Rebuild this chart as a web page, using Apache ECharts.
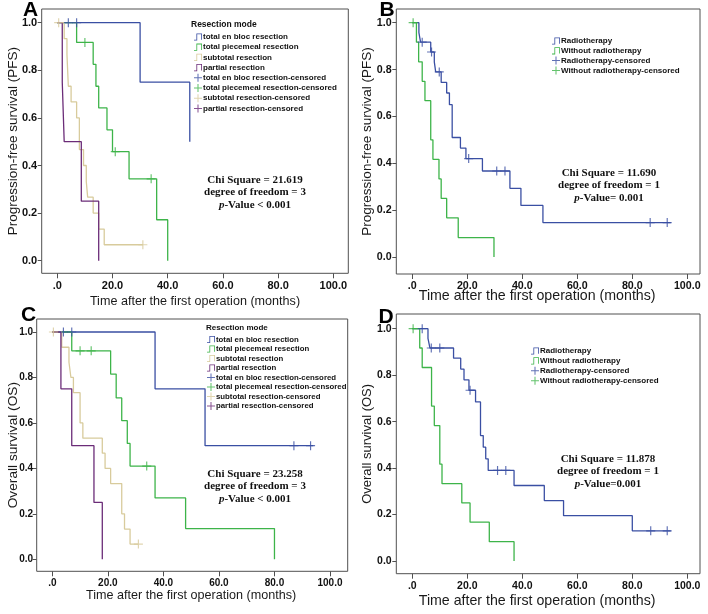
<!DOCTYPE html>
<html><head><meta charset="utf-8">
<script src="https://cdn.jsdelivr.net/npm/echarts@6/dist/echarts.min.js"></script>
<style>html,body{margin:0;padding:0;background:#fff}#c{width:708px;height:614px}</style>
</head><body><div id="c"></div>
<script>
// ---------- data ----------
const xTicks = [0, 20, 40, 60, 80, 100];
const yTicks = [0, 0.2, 0.4, 0.6, 0.8, 1.0];
const resectionNames = ['total en bloc resection', 'total piecemeal resection', 'subtotal resection', 'partial resection'];
const radioNames = ['Radiotherapy', 'Without radiotherapy'];

// Panel A: PFS by resection mode
const A_enbloc = [[0,1],[30,0.75],[48,0.5]];
const A_enbloc_cens = [[4,1],[7,1]];
const A_piecemeal = [[0,1],[7,0.917],[13,0.825],[14,0.733],[15,0.642],[18,0.55],[20,0.458],[26,0.344],[36,0.172],[40,0]];
const A_piecemeal_cens = [[10,0.917],[21,0.458],[34,0.344]];
const A_subtotal = [[0,1],[2.5,0.933],[3.5,0.867],[4,0.733],[5,0.667],[7,0.6],[8,0.467],[9.5,0.4],[10.5,0.333],[11,0.267],[13,0.2],[15,0.133],[17,0.067],[31,0.067]];
const A_subtotal_cens = [[0.5,1],[31,0.067]];
const A_partial = [[0,1],[1.8,0.75],[2.5,0.5],[8.7,0.25],[15,0]];
const A_partial_cens = [];

// Panel B: PFS by radiotherapy
const B_radio = [[0,1],[2.4,0.958],[3,0.917],[6.7,0.875],[8,0.833],[8.5,0.79],[10.5,0.745],[12.5,0.7],[13.5,0.65],[14.5,0.51],[17.5,0.465],[19.5,0.42],[25.5,0.367],[35.5,0.293],[39.5,0.22],[47.5,0.147],[94,0.147]];
const B_radio_cens = [[3.6,0.917],[7,0.875],[9.8,0.79],[20.5,0.42],[30.7,0.367],[33.7,0.367],[86.5,0.147],[92.7,0.147]];
const B_without = [[0,1],[1.5,0.917],[2.3,0.833],[3.6,0.75],[4.6,0.667],[6.7,0.5],[7.5,0.417],[9.7,0.333],[10.5,0.25],[12.5,0.167],[16.7,0.083],[29.7,0]];
const B_without_cens = [[0.3,1]];

// Panel C: OS by resection mode
const C_enbloc = [[0,1],[37,0.75],[55,0.5],[94,0.5]];
const C_enbloc_cens = [[4,1],[7,1],[87,0.5],[93,0.5]];
const C_piecemeal = [[0,1],[7,0.917],[21,0.815],[23,0.71],[25,0.61],[27,0.51],[28,0.41],[37,0.27],[48,0.135],[80,0]];
const C_piecemeal_cens = [[10,0.917],[14,0.917],[34,0.41]];
const C_subtotal = [[0,1],[3.4,0.933],[6,0.867],[6.7,0.8],[7.6,0.733],[10,0.6],[11,0.533],[18,0.467],[19,0.4],[21,0.333],[25,0.2],[26,0.133],[28,0.067],[31,0.067]];
const C_subtotal_cens = [[0.4,1],[31,0.067]];
const C_partial = [[0,1],[3.1,0.75],[7,0.5],[15,0.25],[18,0]];
const C_partial_cens = [];

// Panel D: OS by radiotherapy
const D_radio = [[0,1],[5.7,0.958],[6.4,0.917],[15,0.873],[17.6,0.826],[18.8,0.78],[20.6,0.735],[23,0.685],[24.8,0.54],[25.8,0.49],[26.7,0.44],[27.6,0.39],[37,0.325],[48,0.26],[55,0.195],[80,0.13],[94,0.13]];
const D_radio_cens = [[3.6,1],[6.9,0.917],[10,0.917],[21,0.735],[31,0.39],[34,0.39],[86.7,0.13],[92.7,0.13]];
const D_without = [[0,1],[2.7,0.917],[3.6,0.833],[7,0.667],[8,0.583],[10,0.417],[10.8,0.333],[18,0.25],[21,0.167],[28,0.083],[37,0]];
const D_without_cens = [[0.3,1]];

const statsA = ['Chi Square = 21.619', 'degree of freedom = 3', '-Value < 0.001'];
const statsB = ['Chi Square = 11.690', 'degree of freedom = 1', '-Value= 0.001'];
const statsC = ['Chi Square = 23.258', 'degree of freedom = 3', '-Value < 0.001'];
const statsD = ['Chi Square = 11.878', 'degree of freedom = 1', '-Value=0.001'];

// ---------- styling ----------
const COL = { blue:'#3a4fa3', green:'#3db449', tan:'#d8cb9c', purple:'#6b2c78' };
const resColors = [COL.blue, COL.green, COL.tan, COL.purple];
const radColors = [COL.blue, COL.green];
const PLUS = 'path://M4.35,0 H5.65 V4.35 H10 V5.65 H5.65 V10 H4.35 V5.65 H0 V4.35 H4.35 Z';
const STEP = 'path://M0,9 H3 V1 H10 V9 H9 V2 H4 V10 H0 Z';
const SANS = '"Liberation Sans", Arial, sans-serif';
const SERIF = '"Liberation Serif", "Times New Roman", serif';

const grids = [
  {left:41.7, top:9,   width:306.6, height:264.3, xmin:-5.65, xmax:105.43, ymin:-0.0529, ymax:1.0576,
   yname:'Progression-free survival (PFS)', ygap:21.6, yfs:13.5, xgap:21.4, xfs:12.6, xshift:0, ymargin:4.5, lfs:11},
  {left:396.3, top:9,  width:303.7, height:265,   xmin:-5.82, xmax:104.62, ymin:-0.0726, ymax:1.0585,
   yname:'Progression-free survival (PFS)', ygap:22.2, yfs:13.5, xgap:15, xfs:14.2, xshift:22, ymargin:4.6, lfs:10.7},
  {left:36.7, top:319, width:311,   height:252.3, xmin:-5.62, xmax:106.37, ymin:-0.0528, ymax:1.0572,
   yname:'Overall survival (OS)', ygap:16.5, yfs:13.7, xgap:17.7, xfs:12.6, xshift:2, ymargin:3.6, lfs:10},
  {left:396.3, top:314, width:303.7, height:259.7, xmin:-5.82, xmax:104.62, ymin:-0.0547, ymax:1.0633,
   yname:'Overall survival (OS)', ygap:22.5, yfs:13, xgap:20.2, xfs:14.2, xshift:22, ymargin:4.6, lfs:10.5}
];

const option = {
  backgroundColor:'#fff',
  animation:false,
  grid: grids.map(g => ({left:g.left, top:g.top, width:g.width, height:g.height, show:true, borderColor:'#505050', borderWidth:1, backgroundColor:'#fff'})),
  xAxis: grids.map((g,i) => ({
    type:'value', gridIndex:i, min:g.xmin, max:g.xmax, position:'bottom',
    name:'Time after the first operation (months)', nameLocation:'middle', nameGap:g.xgap, nameMoveOverlap:false,
    nameTextStyle:{fontFamily:SANS, fontSize:g.xfs, color:'#1a1a1a', padding:[0, g.xshift, 0, 0]},
    axisLine:{show:false, onZero:false}, splitLine:{show:false},
    axisTick:{show:true, inside:false, length:5, customValues:xTicks, lineStyle:{color:'#505050'}},
    axisLabel:{customValues:xTicks, margin:7, fontFamily:SANS, fontSize:g.lfs, fontWeight:'bold', color:'#111',
      formatter:v => v === 0 ? '.0' : v.toFixed(1)}
  })),
  yAxis: grids.map((g,i) => ({
    type:'value', gridIndex:i, min:g.ymin, max:g.ymax, position:'left',
    name:g.yname, nameLocation:'middle', nameGap:g.ygap, nameMoveOverlap:false,
    nameTextStyle:{fontFamily:SANS, fontSize:g.yfs, color:'#1a1a1a'},
    axisLine:{show:false, onZero:false}, splitLine:{show:false},
    axisTick:{show:true, inside:false, length:4, customValues:yTicks, lineStyle:{color:'#505050'}},
    axisLabel:{customValues:yTicks, margin:g.ymargin, fontFamily:SANS, fontSize:g.lfs, fontWeight:'bold', color:'#111',
      formatter:v => v.toFixed(1)}
  })),
  legend: [],
  series: [],
  graphic: []
};

function addPanel(idx, names, colors, lines, cens) {
  lines.forEach((d, k) => {
    option.series.push({type:'line', name:names[k], xAxisIndex:idx, yAxisIndex:idx, data:d, step:'end',
      showSymbol:false, symbol:'none', color:colors[k], lineStyle:{width:1.3, color:colors[k]}, silent:true, z:2});
  });
  cens.forEach((d, k) => {
    option.series.push({type:'scatter', name:names[k] + '-censored', xAxisIndex:idx, yAxisIndex:idx, data:d,
      symbol:PLUS, symbolSize:9, color:colors[k], itemStyle:{color:colors[k]}, silent:true, z:3});
  });
}
addPanel(0, resectionNames, resColors, [A_enbloc, A_piecemeal, A_subtotal, A_partial], [A_enbloc_cens, A_piecemeal_cens, A_subtotal_cens, A_partial_cens]);
addPanel(1, radioNames, radColors, [B_radio, B_without], [B_radio_cens, B_without_cens]);
addPanel(2, resectionNames, resColors, [C_enbloc, C_piecemeal, C_subtotal, C_partial], [C_enbloc_cens, C_piecemeal_cens, C_subtotal_cens, C_partial_cens]);
addPanel(3, radioNames, radColors, [D_radio, D_without], [D_radio_cens, D_without_cens]);

function legendData(names) {
  return names.map(n => ({name:n, icon:STEP})).concat(names.map(n => ({name:n + '-censored', icon:PLUS})));
}
function addLegend(left, top, names, gap, fs) {
  option.legend.push({orient:'vertical', left:left, top:top, padding:0, itemGap:gap, itemWidth:8, itemHeight:8,
    selectedMode:false, data:legendData(names),
    textStyle:{fontFamily:SANS, fontSize:fs, fontWeight:'bold', color:'#111', padding:[0,0,0,-4]}});
}
addLegend(194, 33, resectionNames, 2.2, 8);
addLegend(552, 37, radioNames, 1.8, 8);
addLegend(207, 335.5, resectionNames, 1.5, 7.8);
addLegend(531, 347, radioNames, 1.9, 8);

function txt(x, y, text, style) {
  option.graphic.push({type:'text', x:x, y:y, silent:true, style:Object.assign({text:text, align:'center', verticalAlign:'middle'}, style)});
}
// panel letters
[['A',30.5,10],['B',387,10],['C',28.5,315.5],['D',386,317]].forEach(p =>
  txt(p[1], p[2], p[0], {font:'bold 21px ' + SANS, fill:'#000'}));
// legend titles
txt(191, 24.5, 'Resection mode', {font:'bold 8.5px ' + SANS, fill:'#111', align:'left'});
txt(206, 328, 'Resection mode', {font:'bold 8px ' + SANS, fill:'#111', align:'left'});

function stats(cx, y0, lines) {
  option.graphic.push({type:'text', x:cx, y:y0, silent:true, style:{
    text:'{b|' + lines[0] + '}\n{b|' + lines[1] + '}\n{i|p}{b|' + lines[2] + '}',
    align:'center', verticalAlign:'top', lineHeight:12.5,
    rich:{b:{font:'bold 11px ' + SERIF, fill:'#111', lineHeight:12.5}, i:{font:'italic bold 11px ' + SERIF, fill:'#111', lineHeight:12.5}}
  }});
}
stats(255, 173.5, statsA);
stats(609, 166.5, statsB);
stats(255, 467.5, statsC);
stats(608, 452.5, statsD);

const chart = echarts.init(document.getElementById('c'), null, {renderer:'canvas'});
chart.setOption(option);
</script>
</body></html>
